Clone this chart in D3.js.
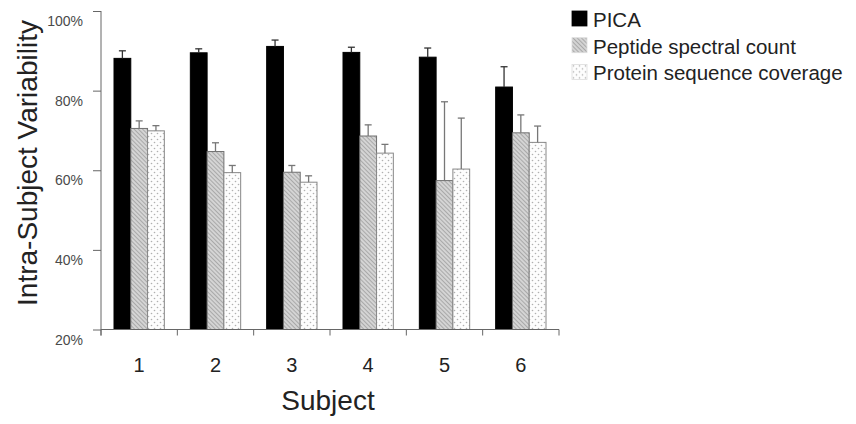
<!DOCTYPE html>
<html>
<head>
<meta charset="utf-8">
<script src="https://cdn.jsdelivr.net/npm/d3@7"></script>
<style>
  body { margin: 0; background: #fff; }
  svg { font-family: "Liberation Sans", Arial, sans-serif; }
</style>
</head>
<body>
<svg id="chart" width="856" height="424"></svg>
<script>
// data
const subjects = ['1', '2', '3', '4', '5', '6'];
const seriesNames = ['PICA', 'Peptide spectral count', 'Protein sequence coverage'];
const picaVals = [88.1, 89.5, 91.1, 89.6, 88.4, 80.9];
const picaErr = [1.9, 1.0, 1.6, 1.3, 2.3, 5.1];
const peptideVals = [70.5, 64.7, 59.5, 68.6, 57.4, 69.4];
const peptideErr = [1.9, 2.2, 1.7, 2.8, 19.8, 4.5];
const proteinVals = [69.9, 59.4, 57.0, 64.3, 60.3, 67.0];
const proteinErr = [1.3, 1.8, 1.6, 2.2, 12.8, 4.1];
const yTicks = [20, 40, 60, 80, 100];

const vals = [picaVals, peptideVals, proteinVals];
const errs = [picaErr, peptideErr, proteinErr];

const svg = d3.select('#chart');

// patterns
const defs = svg.append('defs');
const hatch = defs.append('pattern')
    .attr('id', 'hatch')
    .attr('patternUnits', 'userSpaceOnUse')
    .attr('width', 3).attr('height', 3)
    .attr('patternTransform', 'rotate(-45)');
hatch.append('rect').attr('width', 3).attr('height', 3).attr('fill', '#d4d4d4');
hatch.append('line').attr('x1', 0).attr('y1', 0).attr('x2', 0).attr('y2', 3)
    .attr('stroke', '#8c8c8c').attr('stroke-width', 1.2);

const dots = defs.append('pattern')
    .attr('id', 'dots')
    .attr('patternUnits', 'userSpaceOnUse')
    .attr('width', 6).attr('height', 6);
dots.append('rect').attr('width', 6).attr('height', 6).attr('fill', '#fdfdfd');
dots.append('circle').attr('cx', 1.5).attr('cy', 1.5).attr('r', 0.8).attr('fill', '#b0b0b0');
dots.append('circle').attr('cx', 4.5).attr('cy', 4.5).attr('r', 0.8).attr('fill', '#b0b0b0');

const fills = ['#000', 'url(#hatch)', 'url(#dots)'];
const strokes = ['#000', '#707070', '#888'];
const errColors = ['#333', '#777', '#777'];

const m = { left: 101, right: 559, top: 11, bottom: 329.5 };

const x = d3.scaleBand().domain(subjects).range([m.left, m.right]).padding(0);
const inner = d3.scaleBand().domain(d3.range(3)).range([13, x.bandwidth() - 13]);
const y = d3.scaleLinear().domain([20, 100]).range([m.bottom, m.top]);

// bars
seriesNames.forEach((name, s) => {
    const g = svg.append('g');
    g.selectAll('rect')
        .data(subjects)
        .join('rect')
        .attr('x', d => x(d) + inner(s))
        .attr('y', (d, i) => y(vals[s][i]))
        .attr('width', inner.bandwidth())
        .attr('height', (d, i) => y(20) - y(vals[s][i]))
        .attr('fill', fills[s])
        .attr('stroke', strokes[s])
        .attr('stroke-width', 1);

    // upward error bars
    const cx = d => x(d) + inner(s) + inner.bandwidth() / 2;
    g.selectAll('line.err')
        .data(subjects)
        .join('line')
        .attr('class', 'err')
        .attr('x1', cx).attr('x2', cx)
        .attr('y1', (d, i) => y(vals[s][i]))
        .attr('y2', (d, i) => y(vals[s][i] + errs[s][i]))
        .attr('stroke', errColors[s]).attr('stroke-width', 1.3);
    g.selectAll('line.cap')
        .data(subjects)
        .join('line')
        .attr('class', 'cap')
        .attr('x1', d => cx(d) - 3.5).attr('x2', d => cx(d) + 3.5)
        .attr('y1', (d, i) => y(vals[s][i] + errs[s][i]))
        .attr('y2', (d, i) => y(vals[s][i] + errs[s][i]))
        .attr('stroke', errColors[s]).attr('stroke-width', 1.3);
});

// y axis
const yAxis = svg.append('g')
    .attr('transform', `translate(${m.left},0)`)
    .call(d3.axisLeft(y).tickValues(yTicks).tickSize(8).tickFormat(d => d + '%'));
yAxis.select('.domain').remove();
yAxis.append('line')
    .attr('x1', 0).attr('x2', 0).attr('y1', m.top).attr('y2', m.bottom + 6)
    .attr('stroke', '#666');
yAxis.selectAll('.tick line').attr('stroke', '#666');
yAxis.selectAll('.tick text')
    .attr('x', -18).attr('dy', '1.05em')
    .attr('font-size', 14).attr('fill', '#4a4a4a')
    .attr('font-family', '"Liberation Sans", Arial, sans-serif');

// x axis: ticks at band boundaries, labels centered
const xg = svg.append('g');
xg.append('line')
    .attr('x1', m.left).attr('x2', m.right).attr('y1', m.bottom).attr('y2', m.bottom)
    .attr('stroke', '#666');
xg.selectAll('line.tk')
    .data(subjects.concat(['end']))
    .join('line')
    .attr('class', 'tk')
    .attr('x1', (d, i) => i < subjects.length ? x(d) : m.right)
    .attr('x2', (d, i) => i < subjects.length ? x(d) : m.right)
    .attr('y1', m.bottom).attr('y2', m.bottom + 6)
    .attr('stroke', '#666');
xg.selectAll('text')
    .data(subjects)
    .join('text')
    .attr('x', d => x(d) + x.bandwidth() / 2)
    .attr('y', 372)
    .attr('text-anchor', 'middle')
    .attr('font-size', 20)
    .attr('fill', '#222')
    .text(d => d);

// axis titles
svg.append('text')
    .attr('x', 328).attr('y', 410)
    .attr('text-anchor', 'middle')
    .attr('font-size', 28).attr('fill', '#222')
    .text('Subject');
svg.append('text')
    .attr('transform', 'translate(37,163) rotate(-90)')
    .attr('text-anchor', 'middle')
    .attr('font-size', 28).attr('fill', '#222')
    .text('Intra-Subject Variability');

// legend
const legend = svg.append('g').attr('transform', 'translate(572,11)');
const item = legend.selectAll('g')
    .data(seriesNames)
    .join('g')
    .attr('transform', (d, i) => `translate(0,${i * 26.7})`);
item.append('rect')
    .attr('width', 15).attr('height', 15)
    .attr('fill', (d, i) => fills[i])
    .attr('stroke', (d, i) => i === 0 ? '#000' : '#ddd')
    .attr('stroke-width', 0.8);
item.append('text')
    .attr('x', 21).attr('y', 16)
    .attr('font-size', 20.5).attr('fill', '#222')
    .text(d => d);
</script>
</body>
</html>
